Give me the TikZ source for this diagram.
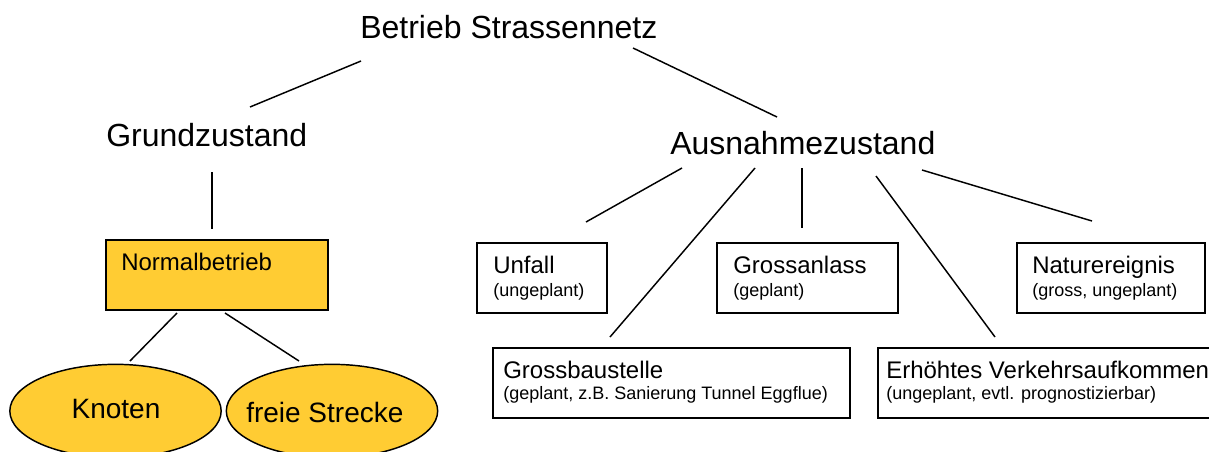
\documentclass[tikz,border=0pt]{standalone}
\usepackage{fontspec}
\setmainfont{Liberation Sans}
\usetikzlibrary{shapes.geometric}
\definecolor{gold}{RGB}{255,204,51}
\tikzset{
  txt/.style={inner sep=0pt, anchor=base west},
  big/.style={font=\fontsize{24}{28}\selectfont},
  mid/.style={font=\fontsize{18}{21}\selectfont},
  small/.style={font=\fontsize{13.5}{16}\selectfont},
  oval/.style={font=\fontsize{21}{25}\selectfont},
  frame/.style={draw=black, line width=1.1pt, inner sep=0pt, minimum height=52.5pt},
  conn/.style={line width=1.1pt},
  blob/.style={ellipse, draw=black, line width=1.1pt, fill=gold, inner sep=0pt, minimum width=158.5pt, minimum height=70pt}
}
\begin{document}
\begin{tikzpicture}[x=0.75pt,y=-0.75pt]
\clip (0,0) rectangle (1209,451);
\fill[white] (0,0) rectangle (1209,451);

% titles
\node[txt,big] (root) at (360,38) {Betrieb Strassennetz};
\node[txt,big] (grund) at (106,146) {Grundzustand};
\node[txt,big] (aus) at (670,154) {Ausnahmezustand};

% Normalbetrieb
\node[frame, fill=gold, minimum width=166.5pt] (normal) at (217,275) {};
\node[txt,mid] (normaltxt) at (121,270) {Normalbetrieb};

% ellipses
\node[blob] (knoten) at (115.5,411) {};
\node[blob] (strecke) at (332,411) {};
\node[inner sep=0pt, anchor=base, oval] (knotentxt) at (116,418) {Knoten};
\node[txt,oval] (streckentxt) at (246,422) {freie Strecke};

% exception boxes
\node[frame, minimum width=97.5pt] (unfall) at (542,278) {};
\node[txt,mid] at (493,273) {Unfall};
\node[txt,small] at (493,296) {(ungeplant)};

\node[frame, minimum width=135.75pt] (anlass) at (807.5,278) {};
\node[txt,mid] at (733,273) {Grossanlass};
\node[txt,small] at (733,296) {(geplant)};

\node[frame, minimum width=141pt] (natur) at (1111,278) {};
\node[txt,mid] at (1032,273) {Naturereignis};
\node[txt,small] at (1032,296) {(gross, ungeplant)};

\node[frame, minimum width=267.75pt] (bau) at (671.5,383) {};
\node[txt,mid] at (503,378) {Grossbaustelle};
\node[txt,small] at (503,399) {(geplant, z.B. Sanierung Tunnel Eggflue)};

\node[frame, minimum width=258.75pt] (verkehr) at (1050.5,383) {};
\node[txt,mid] at (886,378) {Erhöhtes Verkehrsaufkommen};
\node[txt,small] at (886,399) {(ungeplant, evtl. prognostizierbar)};

% connector endpoints
\coordinate (r1) at (361,61);   \coordinate (g1) at (250,107);
\coordinate (r2) at (633,48);   \coordinate (a0) at (777,117);
\coordinate (g2) at (212,172);  \coordinate (n1) at (212,229);
\coordinate (n2) at (177,313);  \coordinate (k1) at (130,361);
\coordinate (n3) at (225,313);  \coordinate (s1) at (299,361);
\coordinate (a1) at (682,168);  \coordinate (u1) at (586,222);
\coordinate (a2) at (755,168);  \coordinate (b1) at (610,337);
\coordinate (a3) at (802,168);  \coordinate (l1) at (802,228);
\coordinate (a4) at (876,176);  \coordinate (v1) at (995,337);
\coordinate (a5) at (922,170);  \coordinate (t1) at (1092,221);

\draw[conn] (r1) -- (g1);
\draw[conn] (r2) -- (a0);
\draw[conn] (g2) -- (n1);
\draw[conn] (n2) -- (k1);
\draw[conn] (n3) -- (s1);
\draw[conn] (a1) -- (u1);
\draw[conn] (a2) -- (b1);
\draw[conn] (a3) -- (l1);
\draw[conn] (a4) -- (v1);
\draw[conn] (a5) -- (t1);
\end{tikzpicture}
\end{document}
